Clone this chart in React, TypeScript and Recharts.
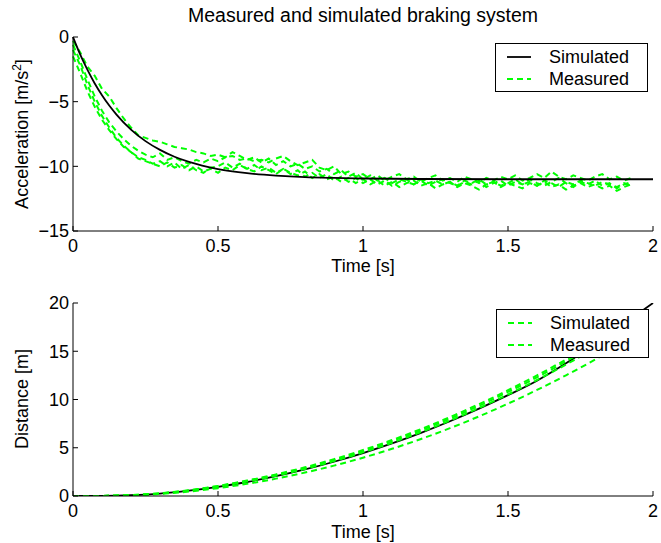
import React from 'react';
import { LineChart, Line, XAxis, YAxis, Legend } from 'recharts';

const FONT = '"Liberation Sans", Arial, Helvetica, sans-serif';
const GREEN = '#00ff00';
const FS = 18;

const timeTicks = [0, 0.5, 1, 1.5, 2];
const accelTicks = [-15, -10, -5, 0];
const distTicks = [0, 5, 10, 15, 20];

// simulated acceleration
const simAccelTime = [0, 0.025, 0.05, 0.075, 0.1, 0.125, 0.15, 0.2, 0.25, 0.3, 0.35, 0.4, 0.5, 0.6, 0.7, 0.8, 0.9, 1.0, 1.2, 1.5, 2.0];
const simAccel = [0, -1.36, -2.54, -3.59, -4.5, -5.3, -6.0, -7.16, -8.05, -8.73, -9.26, -9.66, -10.21, -10.53, -10.72, -10.84, -10.9, -10.94, -10.98, -11.0, -11.0];

// measured acceleration, 4 runs
const measTime = [
  0, 0.025, 0.05, 0.075, 0.1, 0.125, 0.15, 0.175, 0.2, 0.225,
  0.25, 0.275, 0.3, 0.325, 0.35, 0.375, 0.4, 0.425, 0.45, 0.475,
  0.5, 0.525, 0.55, 0.575, 0.6, 0.625, 0.65, 0.675, 0.7, 0.725,
  0.75, 0.775, 0.8, 0.825, 0.85, 0.875, 0.9, 0.925, 0.95, 0.975,
  1.0, 1.025, 1.05, 1.075, 1.1, 1.125, 1.15, 1.175, 1.2, 1.225,
  1.25, 1.275, 1.3, 1.325, 1.35, 1.375, 1.4, 1.425, 1.45, 1.475,
  1.5, 1.525, 1.55, 1.575, 1.6, 1.625, 1.65, 1.675, 1.7, 1.725,
  1.75, 1.775, 1.8, 1.825, 1.85, 1.875, 1.9, 1.925,
];
const measAccelA = [
  -0.3, -1.2, -2.3, -3.0, -4.0, -4.6, -5.5, -6.3, -7.0, -7.6,
  -7.8, -8.0, -8.1, -8.3, -8.5, -8.6, -8.7, -8.9, -9.0, -9.2,
  -9.1, -9.3, -9.2, -9.5, -9.4, -9.6, -9.5, -9.7, -9.4, -9.2,
  -9.6, -9.9, -9.7, -9.5, -10.1, -10.3, -10.0, -10.6, -10.4, -10.8,
  -10.6, -11.0, -10.7, -11.1, -10.8, -10.6, -11.0, -10.8, -11.2, -10.9,
  -10.7, -11.1, -10.9, -11.2, -10.8, -11.0, -11.3, -10.9, -11.1, -10.8,
  -11.0, -10.7, -11.1, -10.9, -10.6, -10.9, -10.4, -10.8, -11.0, -10.7,
  -10.9, -11.1, -10.8, -10.6, -11.0, -10.8, -11.1, -10.9,
];
const measAccelB = [
  -1.5, -2.8, -4.2, -5.4, -6.4, -7.2, -7.9, -8.5, -8.9, -9.4,
  -9.6, -9.8, -10.0, -9.7, -10.1, -9.9, -10.3, -10.0, -10.4, -10.2,
  -10.5, -10.1, -10.3, -9.9, -10.2, -10.4, -10.0, -10.3, -10.6, -10.2,
  -10.5, -10.7, -10.4, -10.9, -10.6, -11.0, -10.8, -11.2, -10.9, -11.3,
  -11.0, -11.4, -11.1, -11.5, -11.2, -11.6, -11.3, -11.1, -11.5, -11.3,
  -11.7, -11.4, -11.2, -11.6, -11.3, -11.5, -11.8, -11.4, -11.2, -11.6,
  -11.3, -11.5, -11.7, -11.3, -11.5, -11.2, -11.6, -11.4, -11.8, -11.5,
  -11.3, -11.6, -11.4, -11.7, -11.5, -11.9, -11.6, -11.4,
];
const measAccelC = [
  -0.6, -1.9, -3.3, -4.6, -5.7, -6.6, -7.3, -7.9, -8.4, -8.8,
  -9.1, -9.3, -9.0, -9.5, -9.3, -9.6, -9.8, -9.5, -9.7, -9.4,
  -9.6, -9.3, -8.9, -9.2, -9.5, -9.3, -9.7, -9.4, -9.9, -9.6,
  -10.0, -9.8, -10.2, -10.0, -10.4, -10.2, -10.6, -10.3, -10.8, -10.5,
  -11.0, -10.7, -11.1, -10.9, -11.3, -11.0, -11.2, -11.4, -11.0, -11.3,
  -11.1, -11.4, -11.2, -11.5, -11.1, -11.3, -11.0, -11.4, -11.2, -11.5,
  -11.3, -11.0, -11.4, -11.2, -11.5, -11.1, -11.3, -11.6, -11.2, -11.4,
  -11.1, -11.3, -11.5, -11.2, -11.4, -11.6, -11.3, -11.5,
];
const measAccelD = [
  -1.0, -2.2, -3.7, -5.0, -6.1, -7.0, -7.8, -8.4, -8.9, -9.3,
  -9.5, -9.8, -9.6, -10.0, -9.7, -10.2, -9.9, -10.3, -10.5, -10.1,
  -10.0, -9.7, -10.1, -9.8, -10.2, -9.9, -10.3, -10.1, -10.5, -10.2,
  -10.6, -10.3, -10.8, -10.5, -10.9, -10.6, -11.1, -10.8, -11.2, -10.9,
  -11.3, -11.0, -11.4, -11.1, -11.5, -11.2, -11.0, -11.4, -11.1, -11.5,
  -11.2, -11.0, -11.3, -11.5, -11.2, -11.4, -11.1, -11.6, -11.3, -11.1,
  -11.5, -11.2, -11.4, -11.0, -11.3, -11.5, -11.2, -10.9, -11.3, -11.6,
  -11.2, -11.4, -11.1, -11.5, -11.3, -11.7, -11.4, -11.2,
];

// distance
const simDistTime = [0, 0.1, 0.2, 0.3, 0.4, 0.5, 0.6, 0.7, 0.8, 0.9, 1.0, 1.1, 1.2, 1.3, 1.4, 1.5, 1.6, 1.7, 1.8, 1.9, 2.0];
const simDist = [0, 0.01, 0.08, 0.25, 0.55, 0.95, 1.45, 2.05, 2.75, 3.55, 4.45, 5.45, 6.55, 7.75, 9.05, 10.45, 11.95, 13.75, 15.75, 17.85, 20.0];

const measDistTime = [0, 0.1, 0.2, 0.3, 0.4, 0.5, 0.6, 0.7, 0.8, 0.9, 1.0, 1.1, 1.2, 1.3, 1.4, 1.5, 1.6, 1.7, 1.8, 1.9];
const measDistA = [0, 0.01, 0.09, 0.27, 0.58, 1.02, 1.55, 2.17, 2.9, 3.72, 4.65, 5.68, 6.8, 8.02, 9.35, 10.78, 12.3, 13.95, 15.7, 17.55];
const measDistB = [0, 0.01, 0.08, 0.25, 0.55, 0.97, 1.5, 2.1, 2.8, 3.62, 4.52, 5.52, 6.62, 7.82, 9.12, 10.52, 12.02, 13.62, 15.32, 17.12];
const measDistC = [0, 0.01, 0.09, 0.28, 0.6, 1.05, 1.6, 2.24, 2.98, 3.82, 4.76, 5.8, 6.94, 8.18, 9.52, 10.96, 12.5, 14.14, 15.88, 17.72];
const measDistD = [0, 0.01, 0.07, 0.21, 0.46, 0.81, 1.26, 1.8, 2.43, 3.15, 3.97, 4.89, 5.91, 7.03, 8.25, 9.57, 10.99, 12.51, 14.13, 15.85];

const toRows = (ts: number[], vs: number[]) => ts.map((t, i) => ({ t, v: vs[i] }));

const fmt = (v: number) => (v < 0 ? '\u2212' + String(-v) : String(v));

const XTick = (props: any) => {
  const { x, y, payload } = props;
  return (
    <g>
      <line x1={x} x2={x} y1={y} y2={y - 5} stroke="#000" />
      <text x={x} y={y + 20.5} textAnchor="middle" fontSize={FS} fontFamily={FONT} fill="#000">
        {fmt(payload.value)}
      </text>
    </g>
  );
};

const YTick = (props: any) => {
  const { x, y, payload } = props;
  return (
    <g>
      <line x1={x} x2={x + 5} y1={y} y2={y} stroke="#000" />
      <text x={x - 4} y={y + 6.4} textAnchor="end" fontSize={FS} fontFamily={FONT} fill="#000">
        {fmt(payload.value)}
      </text>
    </g>
  );
};

type LegendItem = { label: string; color: string; dash?: string };

const LegendBox = ({ items }: { items: LegendItem[] }) => (
  <div
    style={{
      border: '1px solid #000',
      background: '#fff',
      width: 153,
      height: 49,
      boxSizing: 'border-box',
      paddingTop: 2,
      fontFamily: FONT,
      fontSize: FS,
      color: '#000',
    }}
  >
    {items.map((it) => (
      <div key={it.label} style={{ display: 'flex', alignItems: 'center', height: 22 }}>
        <svg width={53} height={22} style={{ display: 'block' }}>
          <line x1={11} x2={35} y1={11} y2={11} stroke={it.color} strokeWidth={1.8} strokeDasharray={it.dash} />
        </svg>
        <span style={{ lineHeight: '22px' }}>{it.label}</span>
      </div>
    ))}
  </div>
);

const topLegend: LegendItem[] = [
  { label: 'Simulated', color: '#000' },
  { label: 'Measured', color: GREEN, dash: '6 4' },
];
const bottomLegend: LegendItem[] = [
  { label: 'Simulated', color: GREEN, dash: '6 4' },
  { label: 'Measured', color: GREEN, dash: '6 4' },
];

const textStyle = { fontSize: FS, fontFamily: FONT, fill: '#000' };

export default function App() {
  const measA = [measAccelA, measAccelB, measAccelC, measAccelD];
  const measD = [measDistA, measDistB, measDistC, measDistD];
  const topH = 280;
  const botH = 543 - topH;

  return (
    <div style={{ position: 'absolute', left: 0, top: 0, width: 661, height: 543, background: '#fff' }}>
      <div
        style={{
          position: 'absolute',
          left: 73,
          width: 580,
          top: 3,
          textAlign: 'center',
          fontFamily: FONT,
          fontSize: 19.5,
          lineHeight: '24px',
          color: '#000',
        }}
      >
        Measured and simulated braking system
      </div>

      <div style={{ position: 'absolute', left: 0, top: 0 }}>
        <LineChart width={661} height={topH} margin={{ top: 37, right: 8, bottom: 0, left: 0 }}>
          <XAxis
            type="number"
            dataKey="t"
            domain={[0, 2]}
            ticks={timeTicks}
            interval={0}
            height={topH - 231}
            tickSize={0}
            tickMargin={0}
            tick={<XTick />}
            axisLine={{ stroke: '#000' }}
            label={{
              content: () => (
                <text x={363} y={272} textAnchor="middle" {...textStyle}>
                  Time [s]
                </text>
              ),
            }}
          />
          <YAxis
            type="number"
            domain={[-15, 0]}
            ticks={accelTicks}
            interval={0}
            width={73}
            tickSize={0}
            tickMargin={0}
            tick={<YTick />}
            axisLine={{ stroke: '#000' }}
            allowDataOverflow
            label={{
              content: () => (
                <text x={28} y={134} textAnchor="middle" transform="rotate(-90, 28, 134)" {...textStyle}>
                  Acceleration [m/s
                  <tspan dy={-7} fontSize={12}>2</tspan>
                  <tspan dy={7}>]</tspan>
                </text>
              ),
            }}
          />
          <Legend
            layout="vertical"
            align="center"
            verticalAlign="middle"
            content={() => <LegendBox items={topLegend} />}
            wrapperStyle={{ left: 495, top: 43, width: 153, height: 49 }}
          />
          {measA.map((run, k) => (
            <Line
              key={'ma' + k}
              data={toRows(measTime, run)}
              dataKey="v"
              type="linear"
              stroke={GREEN}
              strokeWidth={2}
              strokeDasharray="6 4"
              dot={false}
              activeDot={false}
              isAnimationActive={false}
            />
          ))}
          <Line
            data={toRows(simAccelTime, simAccel)}
            dataKey="v"
            type="monotone"
            stroke="#000"
            strokeWidth={1.8}
            dot={false}
            activeDot={false}
            isAnimationActive={false}
          />
        </LineChart>
      </div>

      <div style={{ position: 'absolute', left: 0, top: topH }}>
        <LineChart width={661} height={botH} margin={{ top: 303 - topH, right: 8, bottom: 0, left: 0 }}>
          <XAxis
            type="number"
            dataKey="t"
            domain={[0, 2]}
            ticks={timeTicks}
            interval={0}
            height={botH - (496 - topH)}
            tickSize={0}
            tickMargin={0}
            tick={<XTick />}
            axisLine={{ stroke: '#000' }}
            label={{
              content: () => (
                <text x={363} y={538 - topH} textAnchor="middle" {...textStyle}>
                  Time [s]
                </text>
              ),
            }}
          />
          <YAxis
            type="number"
            domain={[0, 20]}
            ticks={distTicks}
            interval={0}
            width={73}
            tickSize={0}
            tickMargin={0}
            tick={<YTick />}
            axisLine={{ stroke: '#000' }}
            allowDataOverflow
            label={{
              content: () => (
                <text
                  x={28}
                  y={399 - topH}
                  textAnchor="middle"
                  transform={`rotate(-90, 28, ${399 - topH})`}
                  {...textStyle}
                >
                  Distance [m]
                </text>
              ),
            }}
          />
          <Legend
            layout="vertical"
            align="center"
            verticalAlign="middle"
            content={() => <LegendBox items={bottomLegend} />}
            wrapperStyle={{ left: 496, top: 309 - topH, width: 153, height: 49 }}
          />
          <Line
            data={toRows(simDistTime, simDist)}
            dataKey="v"
            type="monotone"
            stroke="#000"
            strokeWidth={1.8}
            dot={false}
            activeDot={false}
            isAnimationActive={false}
          />
          {measD.map((run, k) => (
            <Line
              key={'md' + k}
              data={toRows(measDistTime, run)}
              dataKey="v"
              type="monotone"
              stroke={GREEN}
              strokeWidth={2}
              strokeDasharray="6 4"
              dot={false}
              activeDot={false}
              isAnimationActive={false}
            />
          ))}
        </LineChart>
      </div>
    </div>
  );
}
